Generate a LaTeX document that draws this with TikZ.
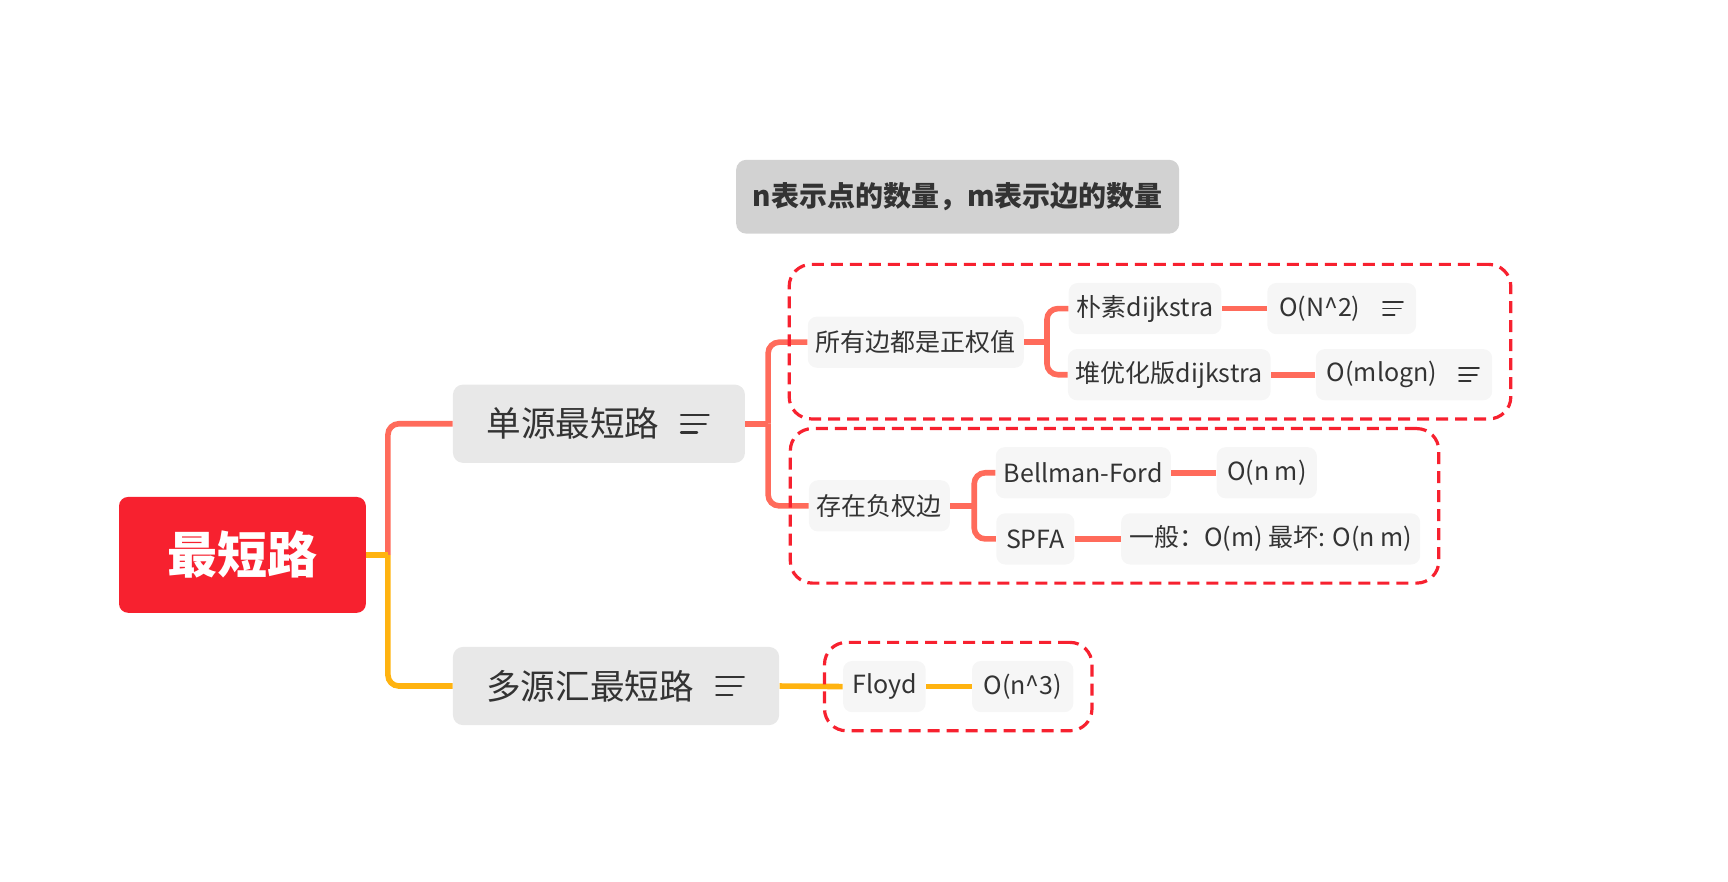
\documentclass[tikz,border=0pt]{standalone}
\usepackage{fontspec}
\setmainfont{Noto Sans CJK SC}
\newfontfamily\heavyfont{Noto Sans CJK SC Black}
\usetikzlibrary{fit}

\definecolor{rootred}{HTML}{F7212F}
\definecolor{coral}{HTML}{FF6B5B}
\definecolor{amber}{HTML}{FFB310}
\definecolor{txtgray}{HTML}{333333}
\definecolor{topicfill}{HTML}{E8E8E8}
\definecolor{notefill}{HTML}{D2D2D2}
\definecolor{leaffill}{HTML}{F6F6F6}

\tikzset{
  rootbox/.style={fill=rootred,text=white,rounded corners=4.5pt,minimum width=123.4pt,minimum height=57.9pt,font=\fontsize{25pt}{30pt}\selectfont\heavyfont},
  notebox/.style={fill=notefill,text=txtgray,rounded corners=5pt,minimum width=221.5pt,minimum height=36.9pt,font=\fontsize{14pt}{17pt}\selectfont\bfseries},
  topicbox/.style={fill=topicfill,text=txtgray,rounded corners=5pt,minimum height=39.1pt,inner xsep=12pt,font=\fontsize{17.3pt}{21pt}\selectfont},
  leafbox/.style={fill=leaffill,text=txtgray,rounded corners=4.5pt,minimum height=25.6pt,inner xsep=4pt,font=\fontsize{12.5pt}{15pt}\selectfont},
  branch/.style={line width=2.8pt,rounded corners=5.5pt},
  grpframe/.style={draw=rootred,line width=1.6pt,dash pattern=on 6pt off 3.5pt,rounded corners=11pt,inner sep=9.1pt},
  notes/.pic={
    \draw[line cap=round] (-12.5,-8) -- (12.5,-8);
    \draw[line cap=round] (-12.5,0) -- (10,0);
    \draw[line cap=round] (-12.5,8) -- (2,8);
  }
}

\begin{document}
\begin{tikzpicture}[x=0.551pt,y=-0.551pt]
  \useasboundingbox (0,0) rectangle (1568,800);

  % main topics
  \node[rootbox] (root) at (220,503.5) {最短路};
  \node[notebox] (note) at (869,178.5) {n表示点的数量，m表示边的数量};
  \node[topicbox,minimum width=146pt] (single) at (543.5,384.5) {单源最短路\hspace{26pt}\null};
  \node[topicbox,minimum width=163.1pt] (multi) at (559,622.5) {多源汇最短路\hspace{26pt}\null};

  % single source
  \node[leafbox,minimum width=106.9pt] (pos) at (831,310.5) {所有边都是正权值};
  \node[leafbox,minimum width=70.5pt] (neg) at (798,459) {存在负权边};
  \node[leafbox,minimum width=76pt] (naive) at (1039,280) {朴素dijkstra};
  \node[leafbox,minimum width=100.3pt] (heap) at (1061,340) {堆优化版dijkstra};
  \node[leafbox,minimum width=74.4pt] (on2) at (1217.5,280) {O(N\textasciicircum 2)\hspace{22pt}\null};
  \node[leafbox,minimum width=88.2pt] (omlogn) at (1274,340) {O(mlogn)\hspace{22pt}\null};
  \node[leafbox,minimum width=87.1pt] (bf) at (983,429) {Bellman-Ford};
  \node[leafbox,minimum width=39.1pt] (spfa) at (939.5,489) {SPFA};
  \node[leafbox,minimum width=50.1pt] (onm) at (1149.5,429) {O(n m)};
  \node[leafbox,minimum width=148.8pt] (spfacost) at (1153,489) {一般：O(m) 最坏: O(n m)};

  % multi source
  \node[leafbox,minimum width=41.3pt] (floyd) at (802.5,623) {Floyd};
  \node[leafbox,minimum width=50.7pt] (on3) at (928,623) {O(n\textasciicircum 3)};

  % note icons
  \pic[txtgray,line width=1.2pt] at (630.5,384.5) {notes};
  \pic[txtgray,line width=1.2pt] at (662.5,622.5) {notes};
  \pic[txtgray,line width=0.9pt,scale=0.72] at (1264,280) {notes};
  \pic[txtgray,line width=0.9pt,scale=0.72] at (1333,340) {notes};

  % connectors
  \coordinate (rootfork) at (352,503.5);
  \coordinate (singlefork) at (697,384.5);
  \coordinate (posfork) at (950,310.5);
  \coordinate (negfork) at (884,459);
  \draw[branch,coral] (rootfork) |- (single.west);
  \draw[branch,coral] (single.east) -- (singlefork);
  \draw[branch,coral] (singlefork) |- (pos.west);
  \draw[branch,coral] (singlefork) |- (neg.west);
  \draw[branch,coral] (pos.east) -- (posfork);
  \draw[branch,coral] (posfork) |- (naive.west);
  \draw[branch,coral] (posfork) |- (heap.west);
  \draw[branch,coral] (neg.east) -- (negfork);
  \draw[branch,coral] (negfork) |- (bf.west);
  \draw[branch,coral] (negfork) |- (spfa.west);
  \draw[branch,coral] (naive.east) -- (on2.west);
  \draw[branch,coral] (heap.east) -- (omlogn.west);
  \draw[branch,coral] (bf.east) -- (onm.west);
  \draw[branch,coral] (spfa.east) -- (spfacost.west);
  \draw[branch,amber] (rootfork) |- (multi.west);
  \draw[branch,amber] (root.east) -- (rootfork);
  \draw[branch,amber] (multi.east) -- (floyd.west);
  \draw[branch,amber] (floyd.east) -- (on3.west);

  % dashed groups
  \node[grpframe,fit=(pos)(naive)(heap)(omlogn)] (posgroup) {};
  \node[grpframe,fit=(neg)(bf)(spfa)(spfacost)] (neggroup) {};
  \node[grpframe,fit=(floyd)(on3)] (floydgroup) {};
\end{tikzpicture}
\end{document}
